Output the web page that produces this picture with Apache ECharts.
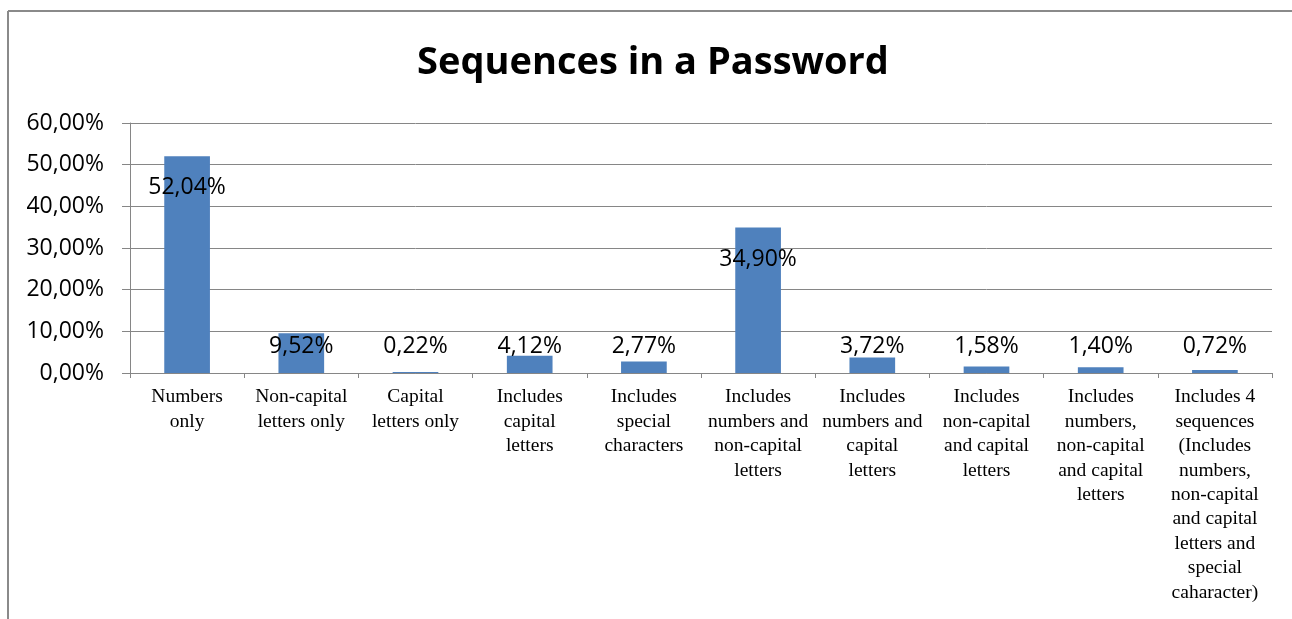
<!DOCTYPE html>
<html>
<head>
<meta charset="utf-8">
<title>Sequences in a Password</title>
<script src="https://cdn.jsdelivr.net/npm/echarts@6/dist/echarts.min.js"></script>
<style>
  html, body { margin: 0; padding: 0; background: #ffffff; }
  #chart { width: 1292px; height: 619px; }
</style>
</head>
<body>
<div id="chart"></div>
<script>
// Share of passwords by character sequence type (percent)
const categories = [
  'Numbers\nonly',
  'Non-capital\nletters only',
  'Capital\nletters only',
  'Includes\ncapital\nletters',
  'Includes\nspecial\ncharacters',
  'Includes\nnumbers and\nnon-capital\nletters',
  'Includes\nnumbers and\ncapital\nletters',
  'Includes\nnon-capital\nand capital\nletters',
  'Includes\nnumbers,\nnon-capital\nand capital\nletters',
  'Includes 4\nsequences\n(Includes\nnumbers,\nnon-capital\nand capital\nletters and\nspecial\ncaharacter)'
];
const shares = [52.04, 9.52, 0.22, 4.12, 2.77, 34.90, 3.72, 1.58, 1.40, 0.72];
const yTicks = { min: 0, max: 60, interval: 10 };

const pct = v => v.toFixed(2).replace('.', ',') + '%';
const gray = '#868686';

// tall bars carry their label inside near the top, short ones sit in a row above the axis
const barData = shares.map(v => ({
  value: v,
  label: v >= 20
    ? { position: 'insideTop', offset: [0, 15] }
    : { position: 'insideBottom', offset: [0, -10] }
}));

const chart = echarts.init(document.getElementById('chart'), null, { renderer: 'canvas' });
chart.setOption({
  animation: false,
  backgroundColor: '#ffffff',
  title: {
    text: 'Sequences in a Password',
    left: 648,
    top: 39,
    textAlign: 'center',
    textStyle: { fontFamily: 'Open Sans', fontWeight: 'bold', fontSize: 38, color: '#000000' }
  },
  graphic: [
    { type: 'line', shape: { x1: 8, y1: 11, x2: 1292, y2: 11 }, style: { stroke: '#8a8a8a', lineWidth: 2 } },
    { type: 'line', shape: { x1: 8, y1: 11, x2: 8, y2: 619 }, style: { stroke: '#8a8a8a', lineWidth: 2 } }
  ],
  grid: { left: 130, right: 20, top: 123, bottom: 246, containLabel: false },
  xAxis: {
    type: 'category',
    data: categories,
    boundaryGap: true,
    axisLine: { lineStyle: { color: gray, width: 1 } },
    axisTick: { show: true, length: 5, lineStyle: { color: gray } },
    axisLabel: {
      interval: 0,
      margin: 12,
      fontFamily: 'Liberation Serif',
      fontSize: 19.5,
      lineHeight: 24.4,
      color: '#000000',
      align: 'center'
    }
  },
  yAxis: {
    type: 'value',
    min: yTicks.min,
    max: yTicks.max,
    interval: yTicks.interval,
    axisLine: { show: true, lineStyle: { color: gray, width: 1 } },
    axisTick: { show: true, length: 8, lineStyle: { color: gray } },
    splitLine: { show: true, lineStyle: { color: gray, width: 1 } },
    axisLabel: {
      formatter: pct,
      margin: 26,
      fontFamily: 'Open Sans',
      fontSize: 23,
      color: '#000000'
    }
  },
  series: [{
    type: 'bar',
    data: barData,
    barWidth: '40%',
    itemStyle: { color: '#4F81BD' },
    label: {
      show: true,
      formatter: p => pct(p.value),
      fontFamily: 'Open Sans',
      fontSize: 23,
      color: '#000000'
    }
  }]
});
</script>
</body>
</html>
